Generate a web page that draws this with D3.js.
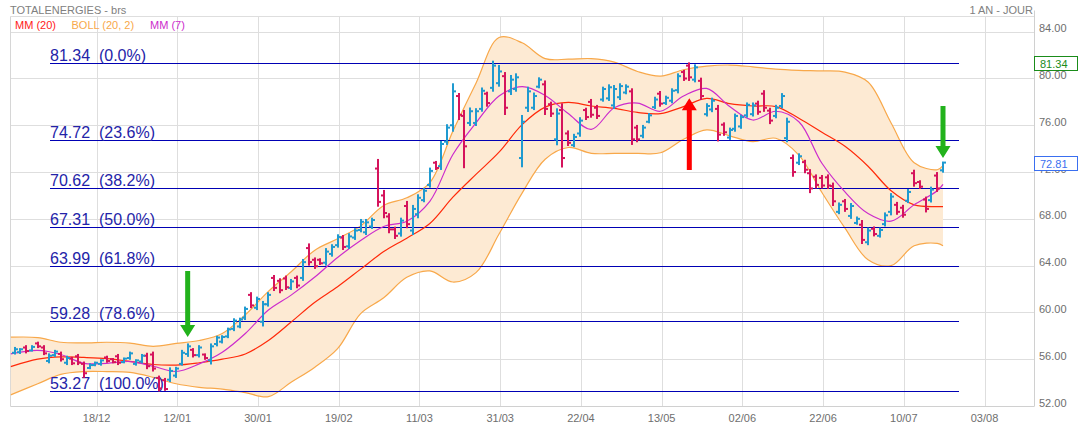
<!DOCTYPE html>
<html><head><meta charset="utf-8">
<script src="https://cdn.jsdelivr.net/npm/d3@7"></script>
<style>body{margin:0;background:#fff;} svg{display:block;font-family:"Liberation Sans",Arial,sans-serif;}</style>
</head><body><svg id="c" width="1079" height="427"></svg>
<script>
// ---- data ----
const high = [57.05,56.95,57.2,57.2,57.5,57.2,56.5,56.8,56.65,56.3,
56.2,56.45,55.8,55.65,55.8,56.0,56.3,56.1,56.45,56.15,
56.65,56.0,56.45,56.55,56.65,54.6,54.4,55.3,55.35,56.8,
57.35,56.95,57.2,56.5,57.35,58.0,58.05,58.7,59.5,59.55,
60.5,61.73,61.35,60.98,61.73,63.2,62.92,63.15,62.86,63.15,
64.57,65.9,64.7,64.63,65.5,65.83,66.68,66.62,66.77,67.2,
67.99,67.99,68.1,73.12,70.47,68.48,67.33,68.1,69.53,69.19,
70.1,70.62,72.38,72.95,74.66,76.09,79.59,78.76,77.31,77.52,
77.46,79.23,78.87,81.52,81.15,80.55,80.3,80.44,76.88,79.3,
78.8,80.1,79.83,78.02,77.45,77.88,75.56,75.27,76.69,77.5,
78.25,77.74,79.3,79.5,79.44,79.59,79.5,79.16,76.03,76.03,
77.04,78.44,78.93,78.53,79.16,80.44,80.73,81.38,81.21,80.07,
77.88,78.36,77.74,76.25,75.8,77.0,76.9,77.95,77.95,78.1,
79.0,77.5,77.75,78.75,76.65,73.5,73.6,73.05,72.25,71.8,
71.75,71.8,71.1,69.4,69.7,69.35,68.2,67.9,67.25,67.35,
67.25,68.55,70.2,69.45,69.2,70.55,72.2,71.3,69.9,70.75,
72.0,72.9];
const low = [56.4,56.45,56.5,56.65,56.95,56.35,55.65,56.2,55.8,55.5,
55.5,55.5,54.4,55.15,55.4,55.45,55.7,55.65,55.5,55.65,
55.95,55.45,55.65,55.15,54.95,53.25,53.3,54.05,54.4,55.45,
56.2,56.15,56.15,55.95,55.55,57.1,57.35,57.8,58.4,58.65,
59.35,60.36,60.2,58.8,60.5,61.83,61.64,61.92,61.92,62.07,
62.7,64.0,63.72,64.06,64.0,64.77,65.54,65.34,65.43,66.2,
66.85,66.62,67.14,69.04,68.05,66.77,66.28,66.48,67.2,66.62,
68.05,69.42,70.67,72.18,72.18,74.32,75.45,76.45,72.33,75.94,
75.94,77.16,77.59,78.87,79.3,76.88,78.59,78.87,72.41,77.14,
77.3,79.16,76.88,76.71,74.29,72.39,74.23,74.13,75.02,76.45,
76.65,76.54,78.02,78.08,77.39,78.16,78.65,74.32,74.55,74.89,
76.17,77.39,77.59,77.74,77.88,78.73,79.79,79.79,79.67,78.16,
76.75,77.12,74.62,75.1,74.75,75.45,75.7,76.65,76.75,76.9,
77.15,76.1,76.6,77.45,74.55,71.6,72.6,71.9,70.2,70.6,
70.6,70.55,69.1,68.4,68.6,68.0,67.5,65.85,65.75,66.5,
66.4,67.35,68.3,68.35,68.1,69.35,70.75,70.55,68.55,69.4,
70.3,71.95];
const open = [56.55,56.6,57.0,56.75,57.35,57.0,55.85,56.35,56.45,55.7,
56.05,56.25,55.6,55.25,55.5,55.6,56.15,56.0,56.25,55.75,
56.1,55.6,55.8,56.3,56.4,54.4,54.2,54.25,54.6,55.6,
56.45,56.8,56.35,56.4,55.9,57.3,57.5,57.95,58.6,58.8,
59.55,61.5,60.4,59.2,60.7,62.95,62.7,62.9,62.1,62.95,
62.95,65.5,64.5,64.5,64.25,65.0,65.75,66.4,65.65,66.4,
67.05,66.85,67.35,72.3,70.0,68.2,67.1,66.75,69.1,67.0,
68.4,69.6,70.9,72.8,72.5,74.6,76.0,78.5,76.8,76.2,
76.2,77.4,78.7,79.2,79.6,80.2,78.9,79.1,73.2,77.5,
77.5,79.3,79.5,77.8,74.8,77.3,75.3,74.3,75.3,77.3,
78.0,77.5,78.2,78.3,77.7,78.4,78.8,78.9,75.8,75.1,
76.3,77.55,78.7,77.9,78.1,79.0,80.55,81.1,79.9,79.8,
76.95,77.35,77.4,76.05,74.95,75.7,75.9,76.85,76.95,77.85,
78.7,77.25,76.8,77.65,74.9,73.2,72.8,72.85,71.9,71.6,
71.5,71.55,70.8,68.6,69.5,68.25,67.65,67.5,66.0,67.15,
66.55,67.55,68.6,69.2,68.95,69.55,71.9,71.15,69.65,69.6,
71.7,72.15];
const close = [56.85,56.85,56.7,57.05,57.1,56.5,56.3,56.65,56.0,56.1,
55.65,55.7,54.8,55.5,55.7,55.9,55.85,55.75,55.7,56.05,
56.5,55.9,56.3,55.4,55.2,53.5,53.45,55.0,55.2,56.55,
57.1,56.35,57.0,56.1,57.1,57.85,57.9,58.55,59.3,59.4,
60.3,60.6,61.15,60.7,61.5,62.1,61.9,62.15,62.65,62.3,
64.3,64.3,63.95,64.2,65.2,65.6,66.45,65.6,66.5,67.0,
67.75,67.7,67.9,69.45,68.5,67.1,66.55,67.85,67.55,68.85,
69.8,70.4,72.1,72.35,74.4,75.8,78.9,76.9,74.2,77.2,
77.2,78.95,77.9,81.1,80.6,77.5,79.9,80.1,76.3,78.9,
78.5,79.9,77.4,77.0,77.0,73.2,74.5,75.0,76.4,76.7,
76.9,76.8,79.1,79.25,79.1,79.35,79.3,74.8,74.8,75.8,
76.85,78.2,77.85,78.35,78.95,80.2,80.0,80.1,80.95,78.5,
77.65,78.1,75.2,75.4,75.6,76.8,76.7,77.75,77.7,77.15,
77.5,76.4,77.5,78.5,76.3,72.0,73.35,72.2,70.6,70.9,
70.85,70.85,69.5,69.2,68.85,69.1,68.0,66.2,67.0,66.7,
67.05,68.3,69.9,68.6,68.35,70.3,71.05,70.75,68.85,70.5,
70.6,72.81];

// indicator samples (bar index -> value)
const maIdx = [-0.7,4,8,12,16,20,24,28,32,36,40,44,48,52,56,60,64,68,72,76,80,84,88,92,96,100,104,108,112,116,120,124,128,132,136,140,144,148,152,156,160,161];
const mm20 = [55.37,56.0,56.2,56.15,56.05,55.82,55.55,55.5,55.7,56.0,
56.45,57.6,59.2,60.85,62.2,63.7,65.2,66.35,67.6,69.85,
71.8,73.7,76.05,77.55,77.95,77.65,77.45,77.1,77.0,77.6,
78.3,77.85,77.65,77.6,76.6,75.4,74.2,72.5,70.4,69.2,
69.05,69.05];
const mm7 = [56.45,56.75,56.4,55.65,55.65,55.8,55.4,54.95,55.6,56.6,
58.2,60.2,61.5,63.0,64.7,66.15,67.35,67.8,69.5,73.5,
76.2,78.5,79.3,78.55,77.0,75.65,77.5,77.9,77.2,78.5,
79.15,77.6,76.45,77.2,76.3,72.75,70.3,68.45,67.8,69.2,
70.4,70.95];
const bollUp = [57.88,57.85,57.45,57.4,57.45,57.38,57.1,57.35,57.6,58.2,
59.8,61.8,63.5,65.3,66.3,67.4,69.15,69.8,71.1,75.5,
79.6,83.5,83.05,81.7,81.65,81.7,81.4,80.6,80.2,80.75,
81.05,81.15,81.0,80.8,80.7,80.65,80.55,79.7,76.2,72.8,
72.2,72.55];
const bollLo = [52.95,53.9,54.7,54.94,54.94,54.87,54.45,53.9,53.6,53.45,
53.15,52.8,54.05,55.3,56.9,59.9,61.25,63.0,63.55,62.6,
63.4,66.7,70.2,73.1,74.1,73.6,73.6,73.6,73.65,74.8,
75.6,75.1,74.6,74.89,73.45,70.25,67.2,64.5,64.0,65.7,
65.9,65.7];

const tickIndex = [14.2,28.2,42.2,56.2,70.2,84.2,98.2,112.2,126.2,140.2,154.2,168.2];
const tickLabels = ["18/12","12/01","30/01","19/02","11/03","31/03","22/04","13/05","02/06","22/06","10/07","03/08"];
const yTicks = [84,80,76,72,68,64,60,56,52];
const fibLevels = [81.34,74.72,70.62,67.31,63.99,59.28,53.27];
const fibPct = ["0.0%","23.6%","38.2%","50.0%","61.8%","78.6%","100.0%"];
const arrowIdx = [30,117,161];
const arrowTip = [57.9,78.3,73.2];
const arrowTail = [63.55,72.18,77.65];
const arrowColor = ["#22b21c","#ff0000","#22b21c"];
const lastClose = 72.81, fibHigh = 81.34;

// ---- drawing ----
const svg = d3.select("#c");
const L = 10.5, R = 1034.5, T = 16.5, B = 406;
const x = d3.scaleLinear().domain([0,161]).range([14.7,943]);
const y = d3.scaleLinear().domain([52,84]).range([406,31.7]);
const px = v => Math.round(v) + 0.5;

svg.append("defs").append("clipPath").attr("id","pc")
  .append("rect").attr("x",L).attr("y",T).attr("width",R-L).attr("height",B-T);

// grid
const g = svg.append("g");
g.selectAll("line.h").data(yTicks).join("line")
  .attr("x1",L).attr("x2",R).attr("y1",d=>px(y(d))).attr("y2",d=>px(y(d)))
  .attr("stroke","#dedede");
g.selectAll("line.v").data(tickIndex).join("line")
  .attr("x1",d=>px(x(d))).attr("x2",d=>px(x(d))).attr("y1",T).attr("y2",B)
  .attr("stroke","#dedede");
g.append("line").attr("x1",L).attr("x2",R).attr("y1",T).attr("y2",T).attr("stroke","#dedede");
g.append("line").attr("x1",L).attr("x2",L).attr("y1",T).attr("y2",B).attr("stroke","#d6d6d6");
g.append("line").attr("x1",L).attr("x2",R).attr("y1",B+0.5).attr("y2",B+0.5).attr("stroke","#d0d0d0");
g.append("line").attr("x1",R).attr("x2",R).attr("y1",T-6).attr("y2",B).attr("stroke","#d0d0d0");

const plot = svg.append("g").attr("clip-path","url(#pc)");
const pts = maIdx.map((d,k)=>k);
// bollinger band
const area = d3.area().x(k=>x(maIdx[k])).y0(k=>y(bollLo[k])).y1(k=>y(bollUp[k])).curve(d3.curveCatmullRom);
plot.append("path").attr("d",area(pts)).attr("fill","#fdead3");
const lineOf = arr => d3.line().x(k=>x(maIdx[k])).y(k=>y(arr[k])).curve(d3.curveCatmullRom)(pts);
plot.append("path").attr("d",lineOf(bollUp)).attr("fill","none").attr("stroke","#f8a84a").attr("stroke-width",1.2);
plot.append("path").attr("d",lineOf(bollLo)).attr("fill","none").attr("stroke","#f8a84a").attr("stroke-width",1.2);

// fibonacci
const fg = plot.append("g");
fg.selectAll("line").data(fibLevels).join("line")
  .attr("x1",50).attr("x2",959).attr("y1",d=>px(y(d))).attr("y2",d=>px(y(d)))
  .attr("stroke","#0000b4").attr("stroke-width",1);
fg.selectAll("text").data(fibLevels).join("text")
  .attr("x",50).attr("y",d=>y(d)-2).attr("font-size",16).attr("fill","#2323a8")
  .style("white-space","pre")
  .text((d,k)=>d.toFixed(2)+"  ("+fibPct[k]+")");

// moving averages
plot.append("path").attr("d",lineOf(mm20)).attr("fill","none").attr("stroke","#ff2a0a").attr("stroke-width",1.2);
plot.append("path").attr("d",lineOf(mm7)).attr("fill","none").attr("stroke","#cc2ccc").attr("stroke-width",1.2);

// OHLC bars
const bars = plot.append("g");
const idx = d3.range(high.length);
const col = i => close[i] >= open[i] ? "#1f9ad0" : "#d5135c";
bars.selectAll("rect.b").data(idx).join("rect")
  .attr("x",i=>Math.round(x(i))-1).attr("width",2)
  .attr("y",i=>y(high[i])).attr("height",i=>Math.max(1,y(low[i])-y(high[i])))
  .attr("fill",col);
bars.selectAll("rect.o").data(idx).join("rect")
  .attr("x",i=>Math.round(x(i))-3).attr("width",2)
  .attr("y",i=>y(open[i])-1).attr("height",2).attr("fill",col);
bars.selectAll("rect.c").data(idx).join("rect")
  .attr("x",i=>Math.round(x(i))+1).attr("width",2)
  .attr("y",i=>y(close[i])-1).attr("height",2).attr("fill",col);

// arrows
arrowIdx.forEach((ai,k)=>{
  const cx = x(ai), ty = y(arrowTip[k]), by = y(arrowTail[k]);
  const dir = by > ty ? 1 : -1;
  const hb = ty + dir*12;
  const p = [[cx-2.5,by],[cx+2.5,by],[cx+2.5,hb],[cx+7.5,hb],[cx,ty],[cx-7.5,hb],[cx-2.5,hb]];
  svg.append("path").attr("d","M"+p.map(q=>q.join(",")).join("L")+"Z").attr("fill",arrowColor[k]);
});

// y axis labels
svg.selectAll("text.yl").data(yTicks).join("text")
  .attr("x",1039).attr("y",d=>y(d)+0.5).attr("font-size",11).attr("fill","#6e6e6e")
  .text(d=>d.toFixed(2));
// x axis labels
svg.selectAll("text.xl").data(tickIndex).join("text")
  .attr("x",d=>x(d)).attr("y",421.5).attr("text-anchor","middle").attr("font-size",11).attr("fill","#6e6e6e")
  .text((d,k)=>tickLabels[k]);

// value boxes (drawn over the axis labels, as in the reference)
function box(v,c){
  const cy = y(v);
  svg.append("rect").attr("x",1034.5).attr("y",Math.round(cy-7)+0.5).attr("width",43).attr("height",14)
    .attr("fill","#fff").attr("stroke",c);
  svg.append("text").attr("x",1040).attr("y",Math.round(cy-7)+11.5).attr("font-size",11).attr("fill",c).text(v.toFixed(2));
}
box(fibHigh,"#1a8c1a");
box(lastClose,"#3a6ff0");

// titles & legend
svg.append("text").attr("x",10).attr("y",13.5).attr("font-size",11).attr("fill","#808080").text("TOTALENERGIES - brs");
svg.append("text").attr("x",1033).attr("y",13.5).attr("text-anchor","end").attr("font-size",11).attr("fill","#808080").text("1 AN - JOUR");
const leg = [["MM (20)","#ff1a1a",15],["BOLL (20, 2)","#f8a84a",71.5],["MM (7)","#cc2ccc",150]];
leg.forEach(l=>svg.append("text").attr("x",l[2]).attr("y",29).attr("font-size",11).attr("fill",l[1]).text(l[0]));
</script></body></html>
